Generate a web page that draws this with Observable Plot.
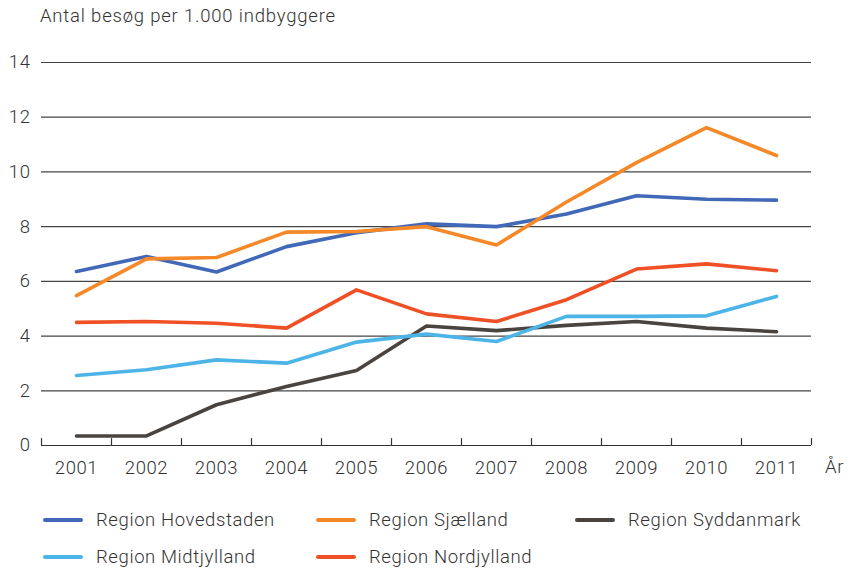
<!DOCTYPE html>
<html>
<head>
<meta charset="utf-8">
<script src="https://cdn.jsdelivr.net/npm/d3@7"></script>
<script src="https://cdn.jsdelivr.net/npm/@observablehq/plot@0.6"></script>
<style>
  body { margin: 0; background: #fff; font-family: Roboto, "DejaVu Sans", sans-serif; font-weight: 300; color: #333; letter-spacing: 0.6px; }
  #wrap { position: relative; width: 850px; height: 570px; }
  #title { position: absolute; left: 40px; top: 5px; font-size: 18.5px; letter-spacing: 0.8px; }
  #unit { position: absolute; left: 825px; top: 456px; font-size: 18.5px; }
  .leg { position: absolute; font-size: 18.5px; display: flex; align-items: center; }
  .sw { width: 40px; height: 4px; border-radius: 2px; margin-right: 13px; }
  svg text { font-family: Roboto, "DejaVu Sans", sans-serif; font-weight: 300; letter-spacing: 0.6px; }
</style>
</head>
<body>
<div id="wrap">
  <div id="title">Antal besøg per 1.000 indbyggere</div>
  <div id="chart"></div>
  <div id="unit">År</div>
  <div id="legend"></div>
</div>
<script>
const years = [2001, 2002, 2003, 2004, 2005, 2006, 2007, 2008, 2009, 2010, 2011];
const seriesNames = ["Region Hovedstaden", "Region Sjælland", "Region Syddanmark", "Region Midtjylland", "Region Nordjylland"];
const colors = ["#4169b8", "#f5892a", "#4a4440", "#4db4e8", "#ef5025"];
const hovedstaden = [6.36, 6.91, 6.34, 7.27, 7.78, 8.1, 8.0, 8.46, 9.13, 9.0, 8.97];
const sjaelland   = [5.48, 6.82, 6.87, 7.8, 7.82, 8.0, 7.33, 8.9, 10.34, 11.62, 10.6];
const syddanmark  = [0.35, 0.35, 1.49, 2.16, 2.74, 4.37, 4.2, 4.39, 4.53, 4.29, 4.16];
const midtjylland = [2.56, 2.77, 3.13, 3.01, 3.78, 4.07, 3.8, 4.72, 4.72, 4.74, 5.45];
const nordjylland = [4.5, 4.53, 4.47, 4.29, 5.69, 4.81, 4.53, 5.33, 6.45, 6.64, 6.39];
const yTicks = [0, 2, 4, 6, 8, 10, 12, 14];

const allSeries = [hovedstaden, sjaelland, syddanmark, midtjylland, nordjylland];
const data = [];
seriesNames.forEach((name, i) => {
  years.forEach((yr, j) => data.push({series: name, year: yr, value: allSeries[i][j]}));
});
const bounds = [...years.map(y => y - 0.5), years[years.length - 1] + 0.5];

const chart = Plot.plot({
  width: 850,
  height: 490,
  marginTop: 62,
  marginBottom: 45,
  marginLeft: 41,
  marginRight: 39,
  style: {fontSize: "18.5px", color: "#333", background: "transparent"},
  x: {domain: [bounds[0], bounds[bounds.length - 1]]},
  y: {domain: [0, 14]},
  color: {domain: seriesNames, range: colors},
  marks: [
    Plot.ruleY(yTicks.filter(d => d > 0), {stroke: "#444", strokeWidth: 1.2}),
    Plot.ruleY([0], {stroke: "#333", strokeWidth: 1.2}),
    Plot.ruleX(bounds, {y1: 0, y2: 0.25, stroke: "#333", strokeWidth: 1.2}),
    Plot.axisY(yTicks, {tickSize: 0, tickPadding: 11, label: null, fontSize: 18.5}),
    Plot.axisX(years, {tickSize: 0, tickPadding: 15, tickFormat: d => String(d), label: null, fontSize: 18.5}),
    Plot.line(data, {x: "year", y: "value", z: "series", stroke: "series", strokeWidth: 3.6, strokeLinecap: "round", strokeLinejoin: "round"})
  ]
});
document.getElementById("chart").appendChild(chart);

const legendPos = [[43, 509], [316, 509], [575, 509], [43, 546], [316, 546]];
const legend = document.getElementById("legend");
seriesNames.forEach((name, i) => {
  const el = document.createElement("div");
  el.className = "leg";
  el.style.left = legendPos[i][0] + "px";
  el.style.top = legendPos[i][1] + "px";
  el.innerHTML = `<div class="sw" style="background:${colors[i]}"></div><span>${name}</span>`;
  legend.appendChild(el);
});
</script>
</body>
</html>
